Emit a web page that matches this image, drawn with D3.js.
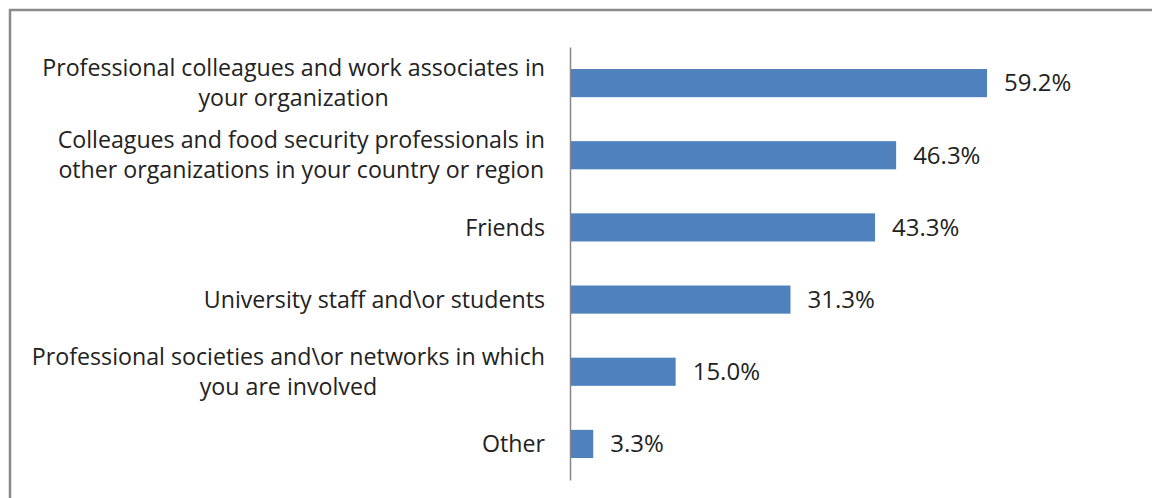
<!DOCTYPE html>
<html>
<head>
<meta charset="utf-8">
<script src="https://cdn.jsdelivr.net/npm/d3@7"></script>
<style>
  html, body { margin: 0; padding: 0; background: #fff; }
  svg { display: block; }
</style>
</head>
<body>
<svg id="chart" width="1152" height="498"></svg>
<script>
// Survey responses: share of respondents citing each source
const categories = [
  ["Professional colleagues and work associates in", "your organization"],
  ["Colleagues and food security professionals in", "other organizations in your country or region"],
  ["Friends"],
  ["University staff and\\or students"],
  ["Professional societies and\\or networks in which", "you are involved"],
  ["Other"]
];
const values = [59.2, 46.3, 43.3, 31.3, 15.0, 3.3];
const valueLabels = ["59.2%", "46.3%", "43.3%", "31.3%", "15.0%", "3.3%"];

const svg = d3.select("#chart");
const fontFamily = "'Open Sans', Lato, sans-serif";

// outer frame
svg.append("rect")
  .attr("x", 10).attr("y", 10)
  .attr("width", 1160).attr("height", 500)
  .attr("fill", "#fff")
  .attr("stroke", "#8a8a8a")
  .attr("stroke-width", 2.5);

const x = d3.scaleLinear().domain([0, 70]).range([570, 570 + 70 * 7.044]);
const y = d3.scaleBand()
  .domain(d3.range(categories.length))
  .range([47, 480])
  .paddingInner(0.61)
  .paddingOuter(0.305);

// bars
svg.append("g").selectAll("rect")
  .data(values)
  .join("rect")
  .attr("x", x(0))
  .attr("y", (d, i) => y(i))
  .attr("width", d => x(d) - x(0))
  .attr("height", y.bandwidth())
  .attr("fill", "#4f81bd");

// vertical category axis line
const axis = d3.axisLeft(y).tickSize(0).tickFormat("");
const gAxis = svg.append("g").attr("transform", `translate(${x(0)},0)`).call(axis);
gAxis.select(".domain").attr("stroke", "#868686").attr("stroke-width", 1.5);

// category labels: each block right-aligned to the axis, lines centred within it
const labels = svg.append("g")
  .attr("font-family", fontFamily)
  .attr("font-size", 23.2)
  .attr("fill", "#222")
  .attr("text-anchor", "middle");
const labelRight = 545;
categories.forEach((lines, i) => {
  const cy = y(i) + y.bandwidth() / 2;
  const lh = 30;
  const t = labels.append("text");
  const spans = lines.map((ln, j) => t.append("tspan")
    .attr("y", cy + (j - (lines.length - 1) / 2) * lh)
    .attr("dy", "0.35em")
    .text(ln));
  const w = d3.max(spans, s => s.node().getComputedTextLength());
  spans.forEach(s => s.attr("x", labelRight - w / 2));
});

// value labels
svg.append("g")
  .attr("font-family", fontFamily)
  .attr("font-size", 24)
  .attr("fill", "#222")
  .selectAll("text")
  .data(values)
  .join("text")
  .attr("x", d => x(d) + 17)
  .attr("y", (d, i) => y(i) + y.bandwidth() / 2)
  .attr("dy", "0.35em")
  .text((d, i) => valueLabels[i]);
</script>
</body>
</html>
